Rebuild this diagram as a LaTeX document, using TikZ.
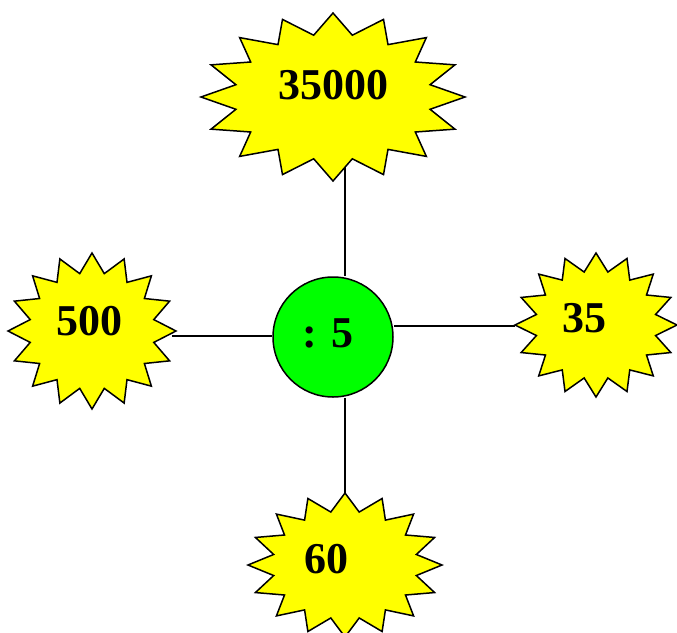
\documentclass[tikz,border=0pt]{standalone}
\usepackage{fontspec}
\setmainfont{Liberation Serif}
\usetikzlibrary{backgrounds}
\definecolor{burst}{HTML}{FFFF00}
\definecolor{hub}{HTML}{00FF00}
\tikzset{
  burstline/.style={draw=black, line width=1.5pt, fill=burst, line join=miter},
  hubcircle/.style={circle, draw=black, line width=1.5pt, fill=hub, minimum size=120pt, inner sep=0pt},
  numtext/.style={font=\fontsize{44}{44}\selectfont\bfseries, inner sep=0pt},
  link/.style={draw=black, line width=1.3pt}
}
% \starburst{cx}{cy}{rx}{ry}
\newcommand{\starburst}[4]{%
  \fill[burstline] plot[samples at={0,...,31}] ({#1+#3*(1-0.25*mod(\x,2))*cos(90+\x*11.25)},{#2-#4*(1-0.25*mod(\x,2))*sin(90+\x*11.25)}) -- cycle;%
}
\begin{document}
\begin{tikzpicture}[x=1pt,y=-1pt]
\useasboundingbox (0,0) rectangle (677,632);
\clip (0,0) rectangle (677,632);
% stars
\starburst{333}{97}{132}{84}
\starburst{92}{331}{84}{78}
\starburst{596}{325}{81}{72}
\starburst{345}{565}{97}{72}
% hub
\node[hubcircle] (c) at (333,337) {};
\node[numtext] (hubtxt) at (328,333) {: 5};
% numbers
\node[numtext] (n35000) at (333,85) {35000};
\node[numtext] (n500) at (89,321) {500};
\node[numtext] (n35) at (584,318) {35};
\node[numtext] (n60) at (326,559) {60};
% connector ends on star boundaries
\coordinate (ttip) at (345,165);
\coordinate (ltip) at (172,336);
\coordinate (rtip) at (515,326);
\coordinate (btip) at (345,493);
\begin{scope}[on background layer]
\draw[link] (ttip) -- (ttip |- c.north);
\draw[link] (ltip) -- (ltip -| c.west);
\draw[link] (rtip -| c.east) -- (rtip);
\draw[link] (btip |- c.south) -- (btip);
\end{scope}
\end{tikzpicture}
\end{document}
